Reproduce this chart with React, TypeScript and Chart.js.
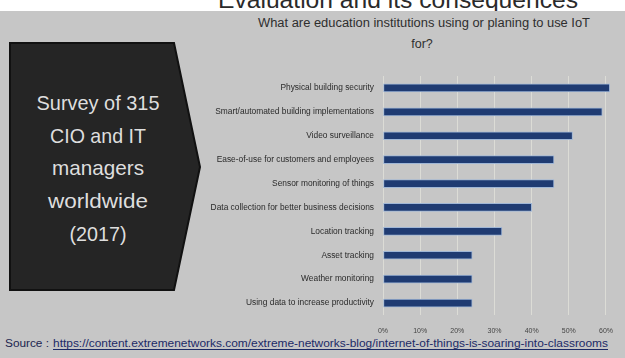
import React, { useEffect, useRef } from "react";
import { Chart, registerables } from "chart.js";

Chart.register(...registerables);

const categories = [
  "Physical building security",
  "Smart/automated building implementations",
  "Video surveillance",
  "Ease-of-use for customers and employees",
  "Sensor monitoring of things",
  "Data collection for better business decisions",
  "Location tracking",
  "Asset tracking",
  "Weather monitoring",
  "Using data to increase productivity",
];
const shareValues = [61, 59, 51, 46, 46, 40, 32, 24, 24, 24];
const xTickValues = [0, 10, 20, 30, 40, 50, 60];

const FONT = "'Liberation Sans', Arial, sans-serif";

export default function App() {
  const canvasRef = useRef<HTMLCanvasElement | null>(null);

  useEffect(() => {
    document.body.style.margin = "0";
    const ctx = canvasRef.current;
    if (!ctx) return;
    const chart = new Chart(ctx, {
      type: "bar",
      data: {
        labels: categories,
        datasets: [
          {
            data: shareValues,
            backgroundColor: "#1f3b72",
            borderColor: "#9fb6d6",
            borderWidth: 1,
            borderSkipped: false,
            barThickness: 8,
            clip: false as any,
          },
        ],
      },
      options: {
        indexAxis: "y",
        animation: false,
        responsive: false,
        devicePixelRatio: 1,
        layout: { padding: { top: 16, right: 8, left: 0, bottom: 0 } },
        plugins: {
          legend: { display: false },
          tooltip: { enabled: false },
          title: { display: false },
        },
        scales: {
          x: {
            min: 0,
            max: 60,
            afterBuildTicks: (scale: any) => {
              scale.ticks = xTickValues.map((v) => ({ value: v }));
            },
            afterFit: (scale: any) => {
              scale.height = 25;
            },
            grid: { color: "#dcdcd6", lineWidth: 1, drawTicks: false },
            border: { display: false },
            ticks: {
              padding: 12,
              color: "#444",
              font: { family: FONT, size: 7 },
              callback: (v: any) => v + "%",
            },
          },
          y: {
            afterFit: (scale: any) => {
              scale.width = 183;
            },
            grid: { display: false, drawTicks: false },
            border: { display: false },
            ticks: {
              padding: 9,
              color: "#2a2a2a",
              font: { family: FONT, size: 8.4 },
            },
          },
        },
      },
    });
    return () => chart.destroy();
  }, []);

  return (
    <div
      style={{
        position: "fixed",
        left: 0,
        top: 0,
        width: 625,
        height: 358,
        background: "#ffffff",
        overflow: "hidden",
      }}
    >
      <svg
        width={625}
        height={358}
        style={{ position: "absolute", left: 0, top: 0 }}
      >
        <text
          x={398}
          y={8}
          textAnchor="middle"
          fontFamily={FONT}
          fontSize={24}
          fill="#2a2a2a"
          textLength={360}
          lengthAdjust="spacingAndGlyphs"
        >
          Evaluation and its consequences
        </text>
        <rect x={0} y={11} width={625} height={347} fill="#c6c6c6" />
        <polygon
          points="10,43 174,43 200,167 174,290 10,290"
          fill="#252525"
          stroke="#111"
          strokeWidth={2}
        />
        {[
          ["Survey of 315", 110, 123],
          ["CIO and IT", 143, 96],
          ["managers", 175, 92],
          ["worldwide", 208, 100],
          ["(2017)", 241, 57],
        ].map(([t, y, w]) => (
          <text
            key={t as string}
            x={98}
            y={y as number}
            textAnchor="middle"
            fontFamily={FONT}
            fontSize={21}
            fill="#dedede"
            textLength={w as number}
            lengthAdjust="spacingAndGlyphs"
          >
            {t}
          </text>
        ))}
        <text
          x={424}
          y={27}
          textAnchor="middle"
          fontFamily={FONT}
          fontSize={12.5}
          fill="#2e2e2e"
          textLength={332}
          lengthAdjust="spacingAndGlyphs"
        >
          What are education institutions using or planing to use IoT
        </text>
        <text
          x={422}
          y={48}
          textAnchor="middle"
          fontFamily={FONT}
          fontSize={12.5}
          fill="#2e2e2e"
        >
          for?
        </text>
        <text
          x={5}
          y={347}
          fontFamily={FONT}
          fontSize={10}
          fill="#1c2550"
          textLength={44}
          lengthAdjust="spacingAndGlyphs"
        >
          Source :
        </text>
        <text
          x={53}
          y={347}
          fontFamily={FONT}
          fontSize={10}
          fill="#1c2a66"
          textLength={555}
          lengthAdjust="spacingAndGlyphs"
        >
          https://content.extremenetworks.com/extreme-networks-blog/internet-of-things-is-soaring-into-classrooms
        </text>
        <line x1={53} y1={349.5} x2={608} y2={349.5} stroke="#1c2a66" strokeWidth={1} />
      </svg>
      <canvas
        ref={canvasRef}
        width={425}
        height={280}
        style={{ position: "absolute", left: 200, top: 60, width: 425, height: 280 }}
      />
    </div>
  );
}
